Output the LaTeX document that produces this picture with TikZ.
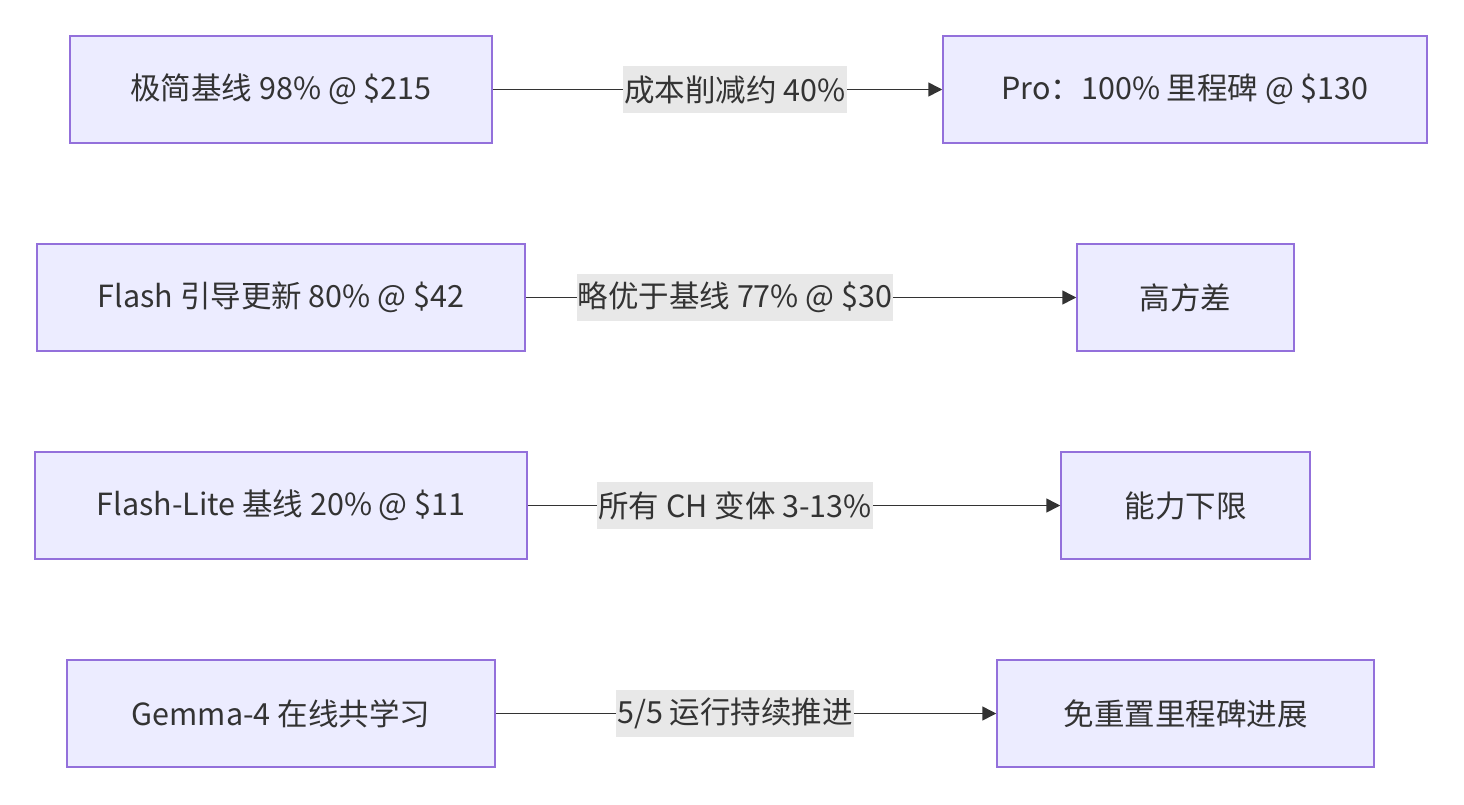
\documentclass[tikz,border=0pt]{standalone}
\usepackage{fontspec}
\setmainfont{Noto Sans CJK SC}
\usetikzlibrary{arrows.meta}
\definecolor{nfill}{HTML}{ECECFF}
\definecolor{nstroke}{HTML}{9370DB}
\definecolor{ln}{HTML}{333333}
\definecolor{lbg}{HTML}{E8E8E8}
\begin{document}
\begin{tikzpicture}[x=1pt,y=-1pt,
  box/.style={draw=nstroke,fill=nfill,line width=1.5pt,minimum height=107pt,inner sep=0pt,text=ln,font=\fontsize{30.5}{34}\selectfont},
  lab/.style={fill=lbg,inner sep=1pt,text=ln,font=\fontsize{30.5}{34}\selectfont,minimum height=47pt},
  arr/.style={draw=ln,line width=1.5pt,-{Triangle[length=14pt,width=14pt]}}]
\useasboundingbox (0,0) rectangle (1464,804);
\node[box,minimum width=422pt] (a1) at (281,89.5) {极简基线 98\% @ \$215};
\node[box,minimum width=484pt] (b1) at (1185,89.5) {Pro：100\% 里程碑 @ \$130};
\node[box,minimum width=488pt] (a2) at (281,297.5) {Flash 引导更新 80\% @ \$42};
\node[box,minimum width=217pt] (b2) at (1185.5,297.5) {高方差};
\node[box,minimum width=492pt] (a3) at (281,505.5) {Flash-Lite 基线 20\% @ \$11};
\node[box,minimum width=249pt] (b3) at (1185.5,505.5) {能力下限};
\node[box,minimum width=428pt] (a4) at (281,713.5) {Gemma-4 在线共学习};
\node[box,minimum width=377pt] (b4) at (1185.5,713.5) {免重置里程碑进展};
\draw[arr] (a1) -- (b1);
\draw[arr] (a2) -- (b2);
\draw[arr] (a3) -- (b3);
\draw[arr] (a4) -- (b4);
\node[lab] (l1) at (735,89.5) {成本削减约 40\%};
\node[lab] (l2) at (735,297.5) {略优于基线 77\% @ \$30};
\node[lab] (l3) at (735,505.5) {所有 CH 变体 3-13\%};
\node[lab] (l4) at (735,713.5) {5/5 运行持续推进};
\end{tikzpicture}
\end{document}
